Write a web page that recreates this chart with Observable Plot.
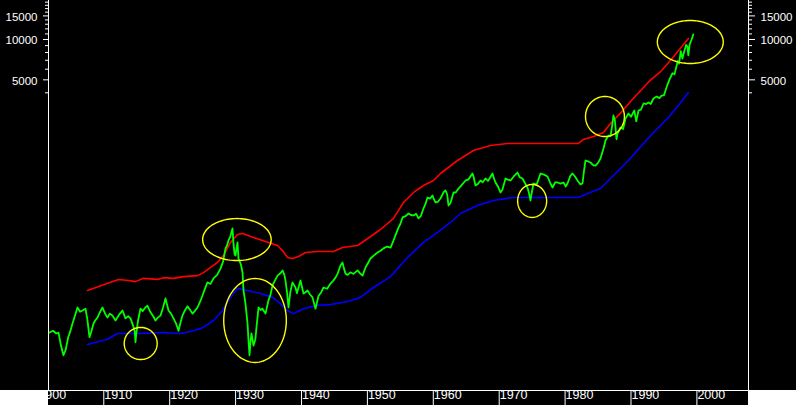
<!DOCTYPE html>
<html><head><meta charset="utf-8">
<script src="https://cdn.jsdelivr.net/npm/d3@7"></script>
<script src="https://cdn.jsdelivr.net/npm/@observablehq/plot@0.6"></script>
<style>
html,body{margin:0;padding:0;background:#000;}
#chart svg{display:block;}
</style></head><body><div id="chart"></div>
<script>
// Dow Jones Industrial Average (green)
const dowYears = [1901.76,1902.3,1902.8,1903.13,1903.5,1903.88,1904.2,1904.6,1904.9,1905.25,1905.6,1906.01,1906.4,1906.77,1907.22,1907.5,1907.83,1908.1,1908.44,1908.7,1909.04,1909.4,1909.8,1910.2,1910.56,1910.9,1911.32,1911.78,1912.3,1912.84,1913.29,1913.7,1914.05,1914.5,1914.7,1914.81,1914.9,1915.2,1915.57,1915.9,1916.3,1916.63,1917.09,1917.5,1917.85,1918.2,1918.6,1919.0,1919.36,1919.82,1920.2,1920.58,1921.0,1921.34,1921.6,1921.94,1922.3,1922.7,1923.1,1923.46,1923.8,1924.22,1924.6,1924.98,1925.3,1925.73,1926.2,1926.64,1927.2,1927.71,1928.1,1928.47,1928.7,1928.92,1929.2,1929.53,1929.68,1929.85,1929.98,1930.29,1930.44,1930.8,1931.05,1931.2,1931.5,1931.81,1931.96,1932.11,1932.3,1932.41,1932.72,1933.0,1933.17,1933.48,1933.8,1934.08,1934.54,1934.99,1935.3,1935.6,1936.0,1936.36,1936.8,1937.12,1937.4,1937.57,1937.8,1938.03,1938.3,1938.63,1939.09,1939.3,1939.85,1940.3,1940.6,1940.91,1941.3,1941.67,1942.12,1942.58,1943.0,1943.34,1943.9,1944.4,1944.8,1945.16,1945.5,1945.92,1946.22,1946.45,1946.68,1947.0,1947.44,1947.9,1948.5,1948.9,1949.26,1949.71,1950.1,1950.47,1951.0,1951.53,1952.0,1952.44,1953.0,1953.51,1953.96,1954.3,1954.72,1955.0,1955.33,1955.8,1956.24,1956.6,1957.0,1957.4,1957.75,1958.1,1958.51,1958.8,1959.12,1959.5,1959.88,1960.1,1960.33,1960.7,1961.09,1961.55,1961.85,1962.1,1962.31,1962.6,1963.07,1963.4,1963.83,1964.3,1964.89,1965.3,1965.95,1966.1,1966.4,1966.8,1967.16,1967.5,1967.92,1968.3,1968.98,1969.2,1969.44,1969.8,1970.2,1970.5,1970.96,1971.3,1971.72,1972.2,1972.78,1973.1,1973.53,1973.9,1974.29,1974.5,1974.75,1974.85,1975.2,1975.7,1976.27,1976.8,1977.33,1977.7,1978.09,1978.5,1978.85,1979.3,1979.76,1980.1,1980.36,1980.8,1981.12,1981.5,1981.88,1982.3,1982.64,1982.85,1983.09,1983.5,1983.85,1984.3,1984.61,1985.0,1985.37,1985.83,1986.13,1986.59,1986.9,1987.19,1987.34,1987.55,1987.8,1987.95,1988.41,1988.8,1989.17,1989.62,1990.0,1990.5,1990.8,1991.14,1991.5,1991.9,1992.3,1992.66,1993.0,1993.41,1993.9,1994.3,1994.6,1995.0,1995.5,1995.9,1996.3,1996.6,1996.9,1997.1,1997.3,1997.55,1997.8,1998.0,1998.35,1998.55,1998.7,1998.9,1999.2,1999.45];
const dowValues = [65,67,64,65,52,44,48,60,66,76,86,100,93,95,98,82,60,66,76,80,84,92,100,90,84,90,87,80,88,95,83,86,83,72,66,55,62,80,98,94,100,103,92,86,80,84,87,100,117,95,90,83,75,67,76,87,95,102,96,90,94,100,110,123,136,154,150,165,175,195,220,276,290,316,340,389,300,250,244,306,232,210,183,134,107,76,57,44,58,64,52,58,71,100,96,98,90,113,125,146,160,173,180,189,175,159,130,100,130,154,141,128,159,127,130,134,125,119,98,122,130,141,138,151,158,167,180,206,217,195,179,175,183,178,189,180,173,199,215,232,245,257,265,276,285,280,316,350,395,420,470,480,503,490,486,500,462,480,548,590,662,650,685,640,608,615,651,722,747,700,577,600,722,720,773,820,887,900,1000,950,814,840,887,860,918,880,1000,920,857,800,722,760,918,900,887,950,1017,940,918,850,786,720,629,680,842,830,1000,980,950,860,786,860,857,840,857,800,842,960,1000,950,887,830,842,1030,1250,1230,1208,1150,1147,1200,1294,1537,1763,1921,1900,2361,2710,2500,1800,1988,2204,2150,2573,2803,2650,2952,2450,2952,3000,3330,3300,3388,3300,3628,3750,3650,3800,3840,4550,5100,5600,5500,6300,6900,6600,8200,7200,7900,9100,8900,7600,9200,10000,10900];

// Upper band (red)
const upperYears = [1907.52,1909.95,1912.23,1913.75,1914.81,1916.02,1918.15,1919.06,1920.58,1922.09,1924.22,1925.13,1926.19,1927.25,1928.16,1929.23,1930.29,1931.05,1932.72,1934.99,1936.36,1937.12,1937.87,1938.63,1939.54,1940.61,1942.43,1944.86,1946.22,1948.5,1949.41,1951.99,1953.96,1955.48,1957.0,1958.51,1960.03,1961.09,1963.67,1966.1,1968.68,1971.26,1973.69,1977.78,1982.03,1982.79,1984.31,1985.83,1986.89,1988.41,1989.92,1991.44,1992.96,1994.48,1996.0,1997.51,1998.72];
const upperValues = [134,148,162,159,156,165,162,167,165,170,173,182,199,217,244,306,351,357,333,306,290,266,236,232,240,257,262,262,280,290,311,382,462,608,722,814,887,1000,1250,1484,1618,1675,1675,1675,1675,1794,1888,2023,2361,2820,3450,4150,4980,5750,7000,8600,10173];

// Lower band (blue)
const lowerYears = [1907.52,1910.56,1912.08,1915.57,1919.06,1921.64,1923.61,1925.13,1926.64,1928.01,1929.23,1930.29,1931.81,1933.78,1935.6,1936.81,1937.87,1938.78,1940.3,1942.43,1944.4,1946.98,1948.95,1950.93,1953.51,1956.09,1958.51,1960.64,1962.61,1964.13,1966.71,1969.14,1972.03,1975.2,1982.03,1983.4,1985.37,1986.89,1989.47,1991.9,1993.41,1995.54,1997.06,1998.72];
const lowerValues = [53,58,64,64,65,64,67,71,80,95,119,139,134,127,119,107,95,90,98,104,105,111,119,141,170,236,306,363,431,503,577,629,662,662,662,709,773,918,1229,1675,2023,2573,3162,4022];

// Highlight rings (yellow): year span and value span
const ringYearFrom = [1913.1,1925.0,1928.2,1972.8,1983.1,1994.0];
const ringYearTo   = [1918.1,1935.4,1937.7,1977.2,1989.0,2004.0];
const ringValueLow  = [40.9,224,38.9,470,1888,6622];
const ringValueHigh = [71.0,461,164.6,828,3757,13860];

// Axis ticks
const decadeTicks = [1900,1910,1920,1930,1940,1950,1960,1970,1980,1990,2000];
const majorTicks = [5000,10000,15000];
const minorTicks = [4000,6000,7000,8000,9000,11000,12000,13000,14000,16000,17000,18000,19000];

const xDomain = [1901.61, 2007.83];
const yDomain = [24.02, 19543];

const dow = dowYears.map((year, i) => ({year, value: dowValues[i]}));
const upper = upperYears.map((year, i) => ({year, value: upperValues[i]}));
const lower = lowerYears.map((year, i) => ({year, value: lowerValues[i]}));
const rings = [];
ringYearFrom.forEach((a, i) => {
  const b = ringYearTo[i];
  const l0 = Math.log10(ringValueLow[i]), l1 = Math.log10(ringValueHigh[i]);
  for (let k = 0; k <= 96; k++) {
    const t = (k / 96) * 2 * Math.PI;
    rings.push({ring: i, year: (a + b) / 2 + (b - a) / 2 * Math.cos(t), value: Math.pow(10, (l0 + l1) / 2 + (l1 - l0) / 2 * Math.sin(t))});
  }
});

function cornerBoxes(index, scales, values, dimensions) {
  const {width, height, marginLeft, marginRight, marginBottom} = dimensions;
  const g = d3.create("svg:g").attr("fill", "#fff");
  g.append("rect").attr("x", 0).attr("y", height - marginBottom).attr("width", marginLeft).attr("height", marginBottom);
  g.append("rect").attr("x", width - marginRight).attr("y", height - marginBottom).attr("width", marginRight).attr("height", marginBottom);
  return g.node();
}

const font = "'Liberation Sans', Arial, sans-serif";
const chart = Plot.plot({
  width: 796, height: 405,
  marginLeft: 48, marginRight: 48, marginTop: 0, marginBottom: 15,
  style: {background: "#000", color: "#fff", fontFamily: font, fontSize: "11.5px"},
  x: {domain: xDomain, axis: null, label: null},
  y: {type: "log", domain: yDomain, axis: null, label: null},
  marks: [
    Plot.line(upper, {x: "year", y: "value", stroke: "#ff0000", strokeWidth: 1.6}),
    Plot.line(lower, {x: "year", y: "value", stroke: "#0000ff", strokeWidth: 1.6}),
    Plot.line(dow, {x: "year", y: "value", stroke: "#00ff00", strokeWidth: 1.8}),
    Plot.line(rings, {x: "year", y: "value", z: "ring", stroke: "#ffff00", strokeWidth: 1.4}),
    Plot.ruleX(xDomain, {stroke: "#fff"}),
    Plot.ruleY([yDomain[0]], {stroke: "#fff"}),
    Plot.axisY(minorTicks, {anchor: "left", tickSize: 3, tickFormat: () => "", label: null, stroke: "#fff"}),
    Plot.axisY(majorTicks, {anchor: "left", tickSize: 5, tickFormat: () => "", label: null, stroke: "#fff"}),
    Plot.axisY(minorTicks, {anchor: "right", tickSize: 3, tickFormat: () => "", label: null, stroke: "#fff"}),
    Plot.axisY(majorTicks, {anchor: "right", tickSize: 6, tickFormat: () => "", label: null, stroke: "#fff"}),
    Plot.text(majorTicks, {y: d => d, text: d => String(d), frameAnchor: "left", dx: -11, dy: 1, textAnchor: "end", fill: "#fff", fontSize: 11.5}),
    Plot.text(majorTicks, {y: d => d, text: d => String(d), frameAnchor: "right", dx: 12, dy: 1, textAnchor: "start", fill: "#fff", fontSize: 11.5}),
    Plot.axisX(decadeTicks, {anchor: "bottom", tickSize: 15, tickFormat: () => "", label: null, stroke: "#fff"}),
    Plot.text(decadeTicks, {x: d => d, text: d => String(d), frameAnchor: "bottom", dy: 8, dx: 0.5, textAnchor: "start", fill: "#fff", fontSize: 12.5}),
    cornerBoxes
  ]
});
document.getElementById("chart").appendChild(chart);
</script>
</body></html>
